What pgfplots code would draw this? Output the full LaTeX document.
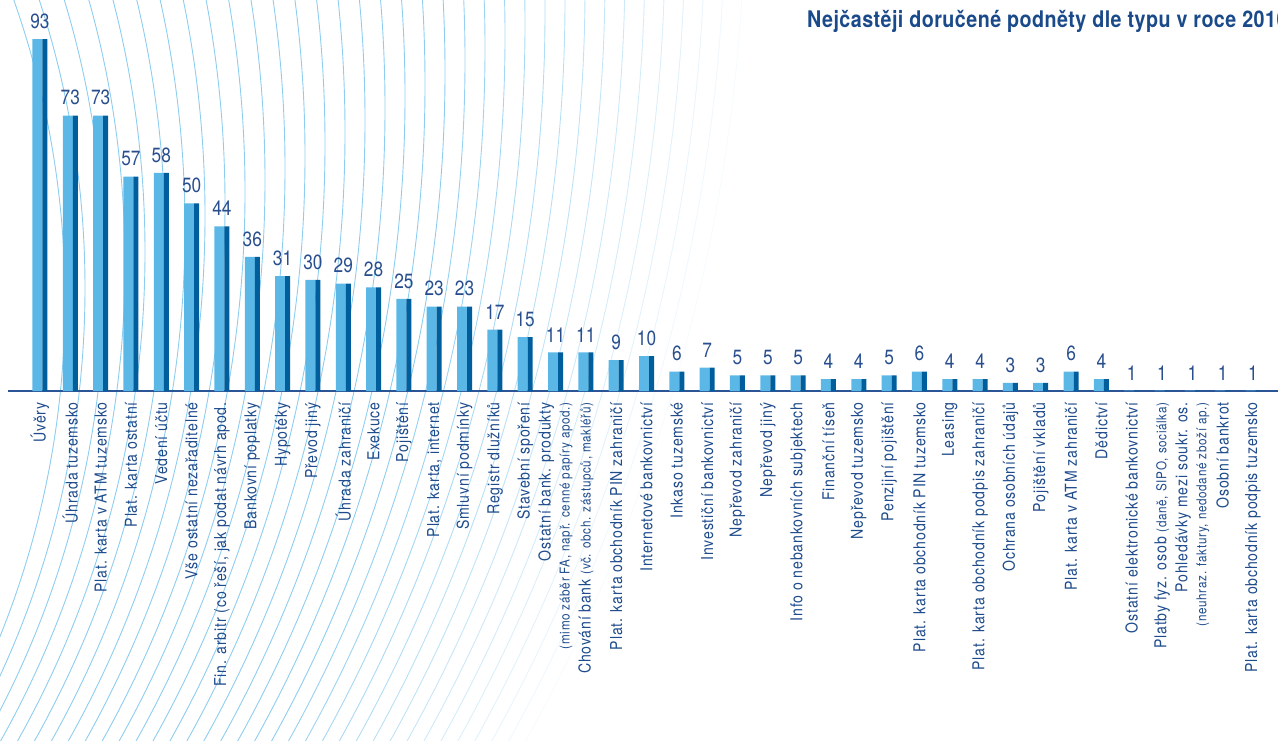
\documentclass[border=0pt]{standalone}
\usepackage{pgfplots}
\pgfplotsset{compat=1.18}
\usepackage{pgfplotstable}
\usepackage{fontspec}
\setmainfont{TeX Gyre Heros}[FakeStretch=0.86,LetterSpace=5]
\newfontfamily\valfont{TeX Gyre Heros}[FakeStretch=0.84]
\newfontfamily\titlefont{TeX Gyre Heros}[FakeStretch=0.86,LetterSpace=2]
\definecolor{frontcol}{RGB}{90,183,230}
\definecolor{sidecol}{RGB}{0,94,156}
\definecolor{axiscol}{RGB}{43,85,151}
\definecolor{labcol}{RGB}{30,75,140}
\definecolor{valcol}{RGB}{40,78,142}
\definecolor{titlecol}{RGB}{26,74,138}
\definecolor{arccol}{RGB}{130,200,238}
\newcommand{\sm}{\fontsize{6.8}{7.5}\selectfont}

\pgfplotstableread{
x y
0 93
1 73
2 73
3 57
4 58
5 50
6 44
7 36
8 31
9 30
10 29
11 28
12 25
13 23
14 23
15 17
16 15
17 11
18 11
19 9
20 10
21 6
22 7
23 5
24 5
25 5
26 4
27 4
28 5
29 6
30 4
31 4
32 3
33 3
34 6
35 4
36 1
37 1
38 1
39 1
40 1
}\datatable

\begin{document}
\begin{tikzpicture}
\begin{scope}
\clip (0,0) rectangle (639pt,370pt);
\foreach \i in {0,...,34}{
  \pgfmathsetmacro\R{900+25*\i}
  \pgfmathsetmacro\rr{0.5*\R}
  \pgfmathsetmacro\cx{(65+20*\i-\R)*0.5}
  \pgfmathsetmacro\cy{(740-(300-12*\i))*0.5}
  \pgfmathsetmacro\op{\i<20 ? 0.9 : 0.9-(\i-19)*0.055}
  \draw[arccol, line width=0.45pt, opacity=\op] (\cx pt,\cy pt) circle[radius=\rr pt];
}
\end{scope}

\begin{axis}[
  at={(4pt,174.5pt)}, anchor=south west,
  scale only axis, width=635pt, height=193.1pt,
  xmin=-1.055, xmax=40.824, ymin=0.9, ymax=102,
  axis x line*=bottom, axis y line=none,
  x axis line style={axiscol, line width=0.8pt, -},
  xtick={0,...,40},
  xticklabels={Úvěry, Úhrada tuzemsko, Plat. karta v ATM tuzemsko, Plat. karta ostatní, Vedení účtu, Vše ostatní nezařaditelné, {Fin. arbitr (co řeší, jak podat návrh apod.}, Bankovní poplatky, Hypotéky, Převod jiný, Úhrada zahraničí, Exekuce, Pojištění, {Plat. karta, internet}, Smluvní podmínky, Registr dlužníků, Stavební spoření, {Ostatní bank. produkty\\{\sm (mimo záběr FA, např. cenné papíry apod.)}}, {Chování bank {\sm (vč. obch. zástupců, makléřů)}}, Plat. karta obchodník PIN zahraničí, Internetové bankovnictví, Inkaso tuzemské, Investiční bankovnictví, Nepřevod zahraničí, Nepřevod jiný, Info o nebankovních subjektech, Finanční tíseň, Nepřevod tuzemsko, Penzijní pojištění, Plat. karta obchodník PIN tuzemsko, Leasing, Plat. karta obchodník podpis zahraničí, Ochrana osobních údajů, Pojištění vkladů, Plat. karta v ATM zahraničí, Dědictví, Ostatní elektronické bankovnictví, {Platby fyz. osob {\sm (daně, SIPO, sociálka)}}, {Pohledávky mezi soukr. os.\\{\sm (neuhraz. faktury, nedodané zboží ap.)}}, Osobní bankrot, Plat. karta obchodník podpis tuzemsko},
  major tick length=0pt,
  xticklabel style={rotate=90, anchor=east, align=right, inner sep=0pt, font=\fontsize{8.2}{9.5}\selectfont, text=labcol},
  xticklabel shift=5.5pt,
  ytick=\empty,
  /pgf/number format/assume math mode=true,
]
\addplot[ybar, bar width=5pt, bar shift=-1.25pt, fill=frontcol, draw=none] table[x=x,y=y]{\datatable};
\addplot[ybar, bar width=2.5pt, bar shift=2.5pt, fill=sidecol, draw=none] table[x=x,y=y]{\datatable};
\addplot[draw=none, nodes near coords, nodes near coords style={font=\valfont\fontsize{10.3}{12}\selectfont, text=valcol, anchor=south, inner sep=0pt, yshift=5pt}] table[x=x,y=y]{\datatable};
\end{axis}

\node[anchor=base west, font=\titlefont\bfseries\fontsize{11.45}{14}\selectfont, text=titlecol] at (400pt,356pt) {Nejčastěji doručené podněty dle typu v roce 2010};

\pgfresetboundingbox
\useasboundingbox (0,0) rectangle (639pt,370pt);
\end{tikzpicture}
\end{document}
